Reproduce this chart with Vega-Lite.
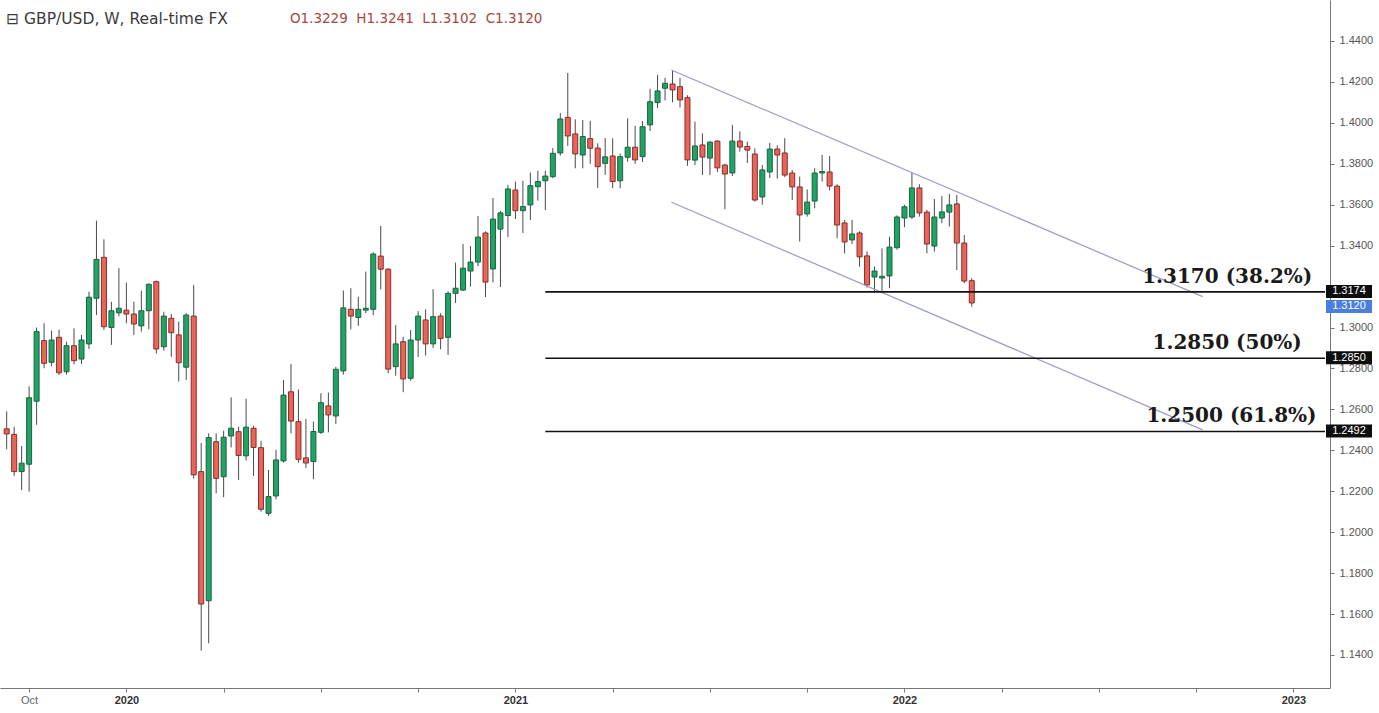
{
  "$schema": "https://vega.github.io/schema/vega-lite/v6.json",
  "width": 1330,
  "height": 688,
  "autosize": {"type": "none"},
  "padding": {"left": 0, "top": 0, "right": 49, "bottom": 25},
  "background": "#ffffff",
  "config": {"view": {"stroke": null}, "axis": {"grid": false}},
  "datasets": {
    "candles": [
      {"d":"2019-09-16","o":1.2505,"h":1.2590,"l":1.2405,"c":1.2480},
      {"d":"2019-09-23","o":1.2478,"h":1.2515,"l":1.2275,"c":1.2296},
      {"d":"2019-09-30","o":1.2296,"h":1.2421,"l":1.2205,"c":1.2337},
      {"d":"2019-10-07","o":1.2332,"h":1.2712,"l":1.2198,"c":1.2657},
      {"d":"2019-10-14","o":1.2640,"h":1.3000,"l":1.2525,"c":1.2980},
      {"d":"2019-10-21","o":1.2936,"h":1.3021,"l":1.2801,"c":1.2825},
      {"d":"2019-10-28","o":1.2830,"h":1.2985,"l":1.2810,"c":1.2939},
      {"d":"2019-11-04","o":1.2952,"h":1.2990,"l":1.2768,"c":1.2779},
      {"d":"2019-11-11","o":1.2784,"h":1.2931,"l":1.2770,"c":1.2911},
      {"d":"2019-11-18","o":1.2911,"h":1.2996,"l":1.2820,"c":1.2838},
      {"d":"2019-11-25","o":1.2846,"h":1.2964,"l":1.2822,"c":1.2939},
      {"d":"2019-12-02","o":1.2920,"h":1.3175,"l":1.2895,"c":1.3148},
      {"d":"2019-12-09","o":1.3143,"h":1.3522,"l":1.3061,"c":1.3333},
      {"d":"2019-12-16","o":1.3343,"h":1.3431,"l":1.2988,"c":1.3004},
      {"d":"2019-12-23","o":1.3000,"h":1.3126,"l":1.2915,"c":1.3082},
      {"d":"2019-12-30","o":1.3072,"h":1.3290,"l":1.3055,"c":1.3094},
      {"d":"2020-01-06","o":1.3085,"h":1.3219,"l":1.3021,"c":1.3066},
      {"d":"2020-01-13","o":1.3066,"h":1.3126,"l":1.2964,"c":1.3017},
      {"d":"2020-01-20","o":1.3008,"h":1.3180,"l":1.2980,"c":1.3082},
      {"d":"2020-01-27","o":1.3082,"h":1.3216,"l":1.2991,"c":1.3211},
      {"d":"2020-02-03","o":1.3224,"h":1.3230,"l":1.2873,"c":1.2895},
      {"d":"2020-02-10","o":1.2906,"h":1.3077,"l":1.2887,"c":1.3056},
      {"d":"2020-02-17","o":1.3045,"h":1.3066,"l":1.2857,"c":1.2975},
      {"d":"2020-02-24","o":1.2964,"h":1.3029,"l":1.2736,"c":1.2828},
      {"d":"2020-03-02","o":1.2806,"h":1.3070,"l":1.2744,"c":1.3061},
      {"d":"2020-03-09","o":1.3056,"h":1.3208,"l":1.2262,"c":1.2280},
      {"d":"2020-03-16","o":1.2296,"h":1.2436,"l":1.1421,"c":1.1649},
      {"d":"2020-03-23","o":1.1665,"h":1.2483,"l":1.1457,"c":1.2462},
      {"d":"2020-03-30","o":1.2442,"h":1.2483,"l":1.2190,"c":1.2263},
      {"d":"2020-04-06","o":1.2271,"h":1.2496,"l":1.2171,"c":1.2464},
      {"d":"2020-04-13","o":1.2470,"h":1.2659,"l":1.2414,"c":1.2508},
      {"d":"2020-04-20","o":1.2491,"h":1.2515,"l":1.2255,"c":1.2375},
      {"d":"2020-04-27","o":1.2373,"h":1.2652,"l":1.2350,"c":1.2513},
      {"d":"2020-05-04","o":1.2508,"h":1.2520,"l":1.2275,"c":1.2414},
      {"d":"2020-05-11","o":1.2413,"h":1.2447,"l":1.2100,"c":1.2112},
      {"d":"2020-05-18","o":1.2092,"h":1.2304,"l":1.2080,"c":1.2174},
      {"d":"2020-05-25","o":1.2177,"h":1.2403,"l":1.2160,"c":1.2353},
      {"d":"2020-06-01","o":1.2348,"h":1.2744,"l":1.2340,"c":1.2670},
      {"d":"2020-06-08","o":1.2686,"h":1.2822,"l":1.2483,"c":1.2543},
      {"d":"2020-06-15","o":1.2540,"h":1.2697,"l":1.2340,"c":1.2356},
      {"d":"2020-06-22","o":1.2363,"h":1.2553,"l":1.2314,"c":1.2338},
      {"d":"2020-06-29","o":1.2345,"h":1.2540,"l":1.2259,"c":1.2492},
      {"d":"2020-07-06","o":1.2488,"h":1.2679,"l":1.2480,"c":1.2633},
      {"d":"2020-07-13","o":1.2617,"h":1.2682,"l":1.2488,"c":1.2573},
      {"d":"2020-07-20","o":1.2568,"h":1.2808,"l":1.2529,"c":1.2796},
      {"d":"2020-07-27","o":1.2788,"h":1.3181,"l":1.2770,"c":1.3096},
      {"d":"2020-08-03","o":1.3089,"h":1.3192,"l":1.2991,"c":1.3056},
      {"d":"2020-08-10","o":1.3049,"h":1.3151,"l":1.3008,"c":1.3089},
      {"d":"2020-08-17","o":1.3085,"h":1.3273,"l":1.3070,"c":1.3094},
      {"d":"2020-08-24","o":1.3089,"h":1.3368,"l":1.3060,"c":1.3359},
      {"d":"2020-08-31","o":1.3349,"h":1.3496,"l":1.3187,"c":1.3285},
      {"d":"2020-09-07","o":1.3285,"h":1.3290,"l":1.2776,"c":1.2797},
      {"d":"2020-09-14","o":1.2809,"h":1.3012,"l":1.2765,"c":1.2920},
      {"d":"2020-09-21","o":1.2931,"h":1.2955,"l":1.2684,"c":1.2749},
      {"d":"2020-09-28","o":1.2752,"h":1.2988,"l":1.2740,"c":1.2939},
      {"d":"2020-10-05","o":1.2939,"h":1.3080,"l":1.2856,"c":1.3056},
      {"d":"2020-10-12","o":1.3037,"h":1.3089,"l":1.2863,"c":1.2920},
      {"d":"2020-10-19","o":1.2920,"h":1.3187,"l":1.2900,"c":1.3053},
      {"d":"2020-10-26","o":1.3056,"h":1.3070,"l":1.2894,"c":1.2947},
      {"d":"2020-11-02","o":1.2952,"h":1.3177,"l":1.2866,"c":1.3167},
      {"d":"2020-11-09","o":1.3167,"h":1.3317,"l":1.3120,"c":1.3192},
      {"d":"2020-11-16","o":1.3183,"h":1.3408,"l":1.3178,"c":1.3290},
      {"d":"2020-11-23","o":1.3276,"h":1.3398,"l":1.3200,"c":1.3320},
      {"d":"2020-11-30","o":1.3320,"h":1.3545,"l":1.3300,"c":1.3442},
      {"d":"2020-12-07","o":1.3462,"h":1.3470,"l":1.3149,"c":1.3222},
      {"d":"2020-12-14","o":1.3286,"h":1.3633,"l":1.3220,"c":1.3530},
      {"d":"2020-12-21","o":1.3481,"h":1.3570,"l":1.3198,"c":1.3560},
      {"d":"2020-12-28","o":1.3547,"h":1.3697,"l":1.3442,"c":1.3677},
      {"d":"2021-01-04","o":1.3672,"h":1.3713,"l":1.3530,"c":1.3571},
      {"d":"2021-01-11","o":1.3571,"h":1.3717,"l":1.3462,"c":1.3591},
      {"d":"2021-01-18","o":1.3599,"h":1.3757,"l":1.3525,"c":1.3693},
      {"d":"2021-01-25","o":1.3688,"h":1.3766,"l":1.3620,"c":1.3713},
      {"d":"2021-02-01","o":1.3717,"h":1.3766,"l":1.3574,"c":1.3740},
      {"d":"2021-02-08","o":1.3737,"h":1.3877,"l":1.3730,"c":1.3851},
      {"d":"2021-02-15","o":1.3853,"h":1.4048,"l":1.3840,"c":1.4019},
      {"d":"2021-02-22","o":1.4027,"h":1.4244,"l":1.3887,"c":1.3936},
      {"d":"2021-03-01","o":1.3946,"h":1.4017,"l":1.3778,"c":1.3848},
      {"d":"2021-03-08","o":1.3843,"h":1.4014,"l":1.3778,"c":1.3933},
      {"d":"2021-03-15","o":1.3923,"h":1.4010,"l":1.3800,"c":1.3876},
      {"d":"2021-03-22","o":1.3877,"h":1.3900,"l":1.3682,"c":1.3786},
      {"d":"2021-03-29","o":1.3802,"h":1.3926,"l":1.3746,"c":1.3834},
      {"d":"2021-04-05","o":1.3838,"h":1.3925,"l":1.3681,"c":1.3713},
      {"d":"2021-04-12","o":1.3717,"h":1.3850,"l":1.3680,"c":1.3835},
      {"d":"2021-04-19","o":1.3832,"h":1.4022,"l":1.3810,"c":1.3881},
      {"d":"2021-04-26","o":1.3881,"h":1.3985,"l":1.3800,"c":1.3819},
      {"d":"2021-05-03","o":1.3835,"h":1.4009,"l":1.3809,"c":1.3981},
      {"d":"2021-05-10","o":1.3990,"h":1.4166,"l":1.3960,"c":1.4103},
      {"d":"2021-05-17","o":1.4099,"h":1.4234,"l":1.4072,"c":1.4156},
      {"d":"2021-05-24","o":1.4169,"h":1.4220,"l":1.4110,"c":1.4193},
      {"d":"2021-05-31","o":1.4190,"h":1.4258,"l":1.4100,"c":1.4161},
      {"d":"2021-06-07","o":1.4177,"h":1.4220,"l":1.4075,"c":1.4112},
      {"d":"2021-06-14","o":1.4123,"h":1.4135,"l":1.3790,"c":1.3819},
      {"d":"2021-06-21","o":1.3818,"h":1.4006,"l":1.3794,"c":1.3887},
      {"d":"2021-06-28","o":1.3892,"h":1.3949,"l":1.3745,"c":1.3833},
      {"d":"2021-07-05","o":1.3828,"h":1.3910,"l":1.3745,"c":1.3906},
      {"d":"2021-07-12","o":1.3911,"h":1.3915,"l":1.3760,"c":1.3780},
      {"d":"2021-07-19","o":1.3794,"h":1.3800,"l":1.3578,"c":1.3750},
      {"d":"2021-07-26","o":1.3755,"h":1.3990,"l":1.3740,"c":1.3911},
      {"d":"2021-08-02","o":1.3911,"h":1.3958,"l":1.3860,"c":1.3882},
      {"d":"2021-08-09","o":1.3885,"h":1.3908,"l":1.3804,"c":1.3867},
      {"d":"2021-08-16","o":1.3848,"h":1.3875,"l":1.3615,"c":1.3623},
      {"d":"2021-08-23","o":1.3638,"h":1.3794,"l":1.3600,"c":1.3770},
      {"d":"2021-08-30","o":1.3760,"h":1.3902,"l":1.3730,"c":1.3872},
      {"d":"2021-09-06","o":1.3872,"h":1.3890,"l":1.3727,"c":1.3843},
      {"d":"2021-09-13","o":1.3853,"h":1.3925,"l":1.3735,"c":1.3745},
      {"d":"2021-09-20","o":1.3755,"h":1.3770,"l":1.3623,"c":1.3687},
      {"d":"2021-09-27","o":1.3687,"h":1.3737,"l":1.3420,"c":1.3550},
      {"d":"2021-10-04","o":1.3555,"h":1.3675,"l":1.3542,"c":1.3613},
      {"d":"2021-10-11","o":1.3618,"h":1.3778,"l":1.3583,"c":1.3755},
      {"d":"2021-10-18","o":1.3755,"h":1.3843,"l":1.3713,"c":1.3762},
      {"d":"2021-10-25","o":1.3760,"h":1.3838,"l":1.3670,"c":1.3691},
      {"d":"2021-11-01","o":1.3691,"h":1.3700,"l":1.3436,"c":1.3501},
      {"d":"2021-11-08","o":1.3511,"h":1.3526,"l":1.3363,"c":1.3418},
      {"d":"2021-11-15","o":1.3428,"h":1.3526,"l":1.3408,"c":1.3457},
      {"d":"2021-11-22","o":1.3462,"h":1.3470,"l":1.3297,"c":1.3345},
      {"d":"2021-11-29","o":1.3350,"h":1.3372,"l":1.3195,"c":1.3208},
      {"d":"2021-12-06","o":1.3247,"h":1.3298,"l":1.3170,"c":1.3276},
      {"d":"2021-12-13","o":1.3242,"h":1.3387,"l":1.3172,"c":1.3250},
      {"d":"2021-12-20","o":1.3252,"h":1.3444,"l":1.3192,"c":1.3393},
      {"d":"2021-12-27","o":1.3390,"h":1.3548,"l":1.3380,"c":1.3540},
      {"d":"2022-01-03","o":1.3535,"h":1.3600,"l":1.3490,"c":1.3590},
      {"d":"2022-01-10","o":1.3540,"h":1.3755,"l":1.3530,"c":1.3682},
      {"d":"2022-01-17","o":1.3682,"h":1.3700,"l":1.3542,"c":1.3560},
      {"d":"2022-01-24","o":1.3564,"h":1.3575,"l":1.3363,"c":1.3408},
      {"d":"2022-01-31","o":1.3398,"h":1.3628,"l":1.3371,"c":1.3540},
      {"d":"2022-02-07","o":1.3535,"h":1.3643,"l":1.3510,"c":1.3565},
      {"d":"2022-02-14","o":1.3564,"h":1.3652,"l":1.3493,"c":1.3599},
      {"d":"2022-02-21","o":1.3604,"h":1.3648,"l":1.3281,"c":1.3413},
      {"d":"2022-02-28","o":1.3413,"h":1.3452,"l":1.3216,"c":1.3227},
      {"d":"2022-03-07","o":1.3229,"h":1.3241,"l":1.3102,"c":1.3120}
    ],
    "levels": [
      {"start":"2021-02-01","price":1.3174},
      {"start":"2021-02-01","price":1.2850},
      {"start":"2021-02-01","price":1.2492}
    ],
    "channel": [
      {"line":"upper","d":"2021-05-30","p":1.4258},
      {"line":"upper","d":"2022-10-09","p":1.3151},
      {"line":"lower","d":"2021-05-30","p":1.3612},
      {"line":"lower","d":"2022-10-09","p":1.2500}
    ],
    "notes": [
      {"label":"1.3170 (38.2%)","d":"2022-11-01","price":1.3174},
      {"label":"1.2850 (50%)","d":"2022-11-01","price":1.2850},
      {"label":"1.2500 (61.8%)","d":"2022-11-05","price":1.2492}
    ],
    "tags": [
      {"label":"1.3120","price":1.3120,"kind":"last"},
      {"label":"1.3174","price":1.3174,"kind":"level"},
      {"label":"1.2850","price":1.2850,"kind":"level"},
      {"label":"1.2492","price":1.2492,"kind":"level"}
    ],
    "header": [
      {"title":"⊟ GBP/USD, W, Real-time FX","ohlc":"O1.3229\u00a0 H1.3241\u00a0 L1.3102\u00a0 C1.3120"}
    ]
  },
  "layer": [
    {
      "data": {"name": "candles"},
      "mark": {"type": "rule", "color": "#4a4a4a", "strokeWidth": 1},
      "encoding": {
        "x": {
          "field": "d", "type": "temporal", "title": null,
          "scale": {"type": "utc", "nice": false, "domain": [
            {"year": 2019, "month": 9, "date": 14, "hours": 10, "minutes": 20, "utc": true},
            {"year": 2023, "month": 1, "date": 31, "hours": 12, "utc": true}
          ]},
          "axis": {
            "title": null, "grid": false,
            "values": [
              {"year":2019,"month":10,"date":7,"utc":true},
              {"year":2020,"month":1,"date":6,"utc":true},
              {"year":2020,"month":4,"date":6,"utc":true},
              {"year":2020,"month":7,"date":6,"utc":true},
              {"year":2020,"month":10,"date":5,"utc":true},
              {"year":2021,"month":1,"date":4,"utc":true},
              {"year":2021,"month":4,"date":5,"utc":true},
              {"year":2021,"month":7,"date":5,"utc":true},
              {"year":2021,"month":10,"date":4,"utc":true},
              {"year":2022,"month":1,"date":3,"utc":true},
              {"year":2022,"month":4,"date":4,"utc":true},
              {"year":2022,"month":7,"date":4,"utc":true},
              {"year":2022,"month":10,"date":3,"utc":true},
              {"year":2023,"month":1,"date":2,"utc":true}
            ],
            "labelExpr": "utcmonth(datum.value) == 0 ? utcFormat(datum.value, '%Y') : (utcyear(datum.value) == 2019 ? 'Oct' : '')",
            "labelFont": "Liberation Sans", "labelFontSize": 11,
            "labelColor": {"condition": {"test": "utcmonth(datum.value) == 0", "value": "#333333"}, "value": "#666666"},
            "labelFontWeight": {"condition": {"test": "utcmonth(datum.value) == 0", "value": "bold"}, "value": "normal"},
            "labelPadding": 2, "labelFlush": false, "labelOverlap": false,
            "tickSize": 4, "tickColor": "#777777", "domainColor": "#777777"
          }
        },
        "y": {
          "field": "l", "type": "quantitative", "title": null,
          "scale": {"domain": [1.12387, 1.46003], "nice": false, "zero": false},
          "axis": {
            "orient": "right", "title": null, "grid": false,
            "values": [1.14,1.16,1.18,1.2,1.22,1.24,1.26,1.28,1.3,1.34,1.36,1.38,1.4,1.42,1.44],
            "format": ".4f",
            "labelFont": "Liberation Sans", "labelFontSize": 11, "labelColor": "#555555",
            "labelPadding": 5, "labelFlush": false, "labelOverlap": false,
            "tickSize": 4, "tickColor": "#777777", "domainColor": "#777777"
          }
        },
        "y2": {"field": "h"}
      }
    },
    {
      "data": {"name": "candles"},
      "mark": {"type": "bar", "size": 5, "strokeWidth": 1},
      "encoding": {
        "x": {"field": "d", "type": "temporal", "title": null},
        "y": {"field": "o", "type": "quantitative", "title": null},
        "y2": {"field": "c"},
        "fill": {"condition": {"test": "datum.c >= datum.o", "value": "#22a267"}, "value": "#e8655b"},
        "stroke": {"condition": {"test": "datum.c >= datum.o", "value": "#17653f"}, "value": "#8a2d27"}
      }
    },
    {
      "data": {"name": "channel"},
      "mark": {"type": "line", "color": "#9a9bc7", "strokeWidth": 1.2},
      "encoding": {
        "x": {"field": "d", "type": "temporal", "title": null},
        "y": {"field": "p", "type": "quantitative", "title": null},
        "detail": {"field": "line", "type": "nominal"}
      }
    },
    {
      "data": {"name": "levels"},
      "mark": {"type": "rule", "color": "#111111", "strokeWidth": 1.6},
      "encoding": {
        "x": {"field": "start", "type": "temporal", "title": null},
        "x2": {"datum": {"year": 2023, "month": 1, "date": 31, "hours": 12, "utc": true}},
        "y": {"field": "price", "type": "quantitative", "title": null}
      }
    },
    {
      "data": {"name": "notes"},
      "mark": {"type": "text", "font": "DejaVu Serif", "fontWeight": "bold", "fontSize": 20, "color": "#1a1a1a", "align": "center", "baseline": "alphabetic", "dy": -9},
      "encoding": {
        "x": {"field": "d", "type": "temporal", "title": null},
        "y": {"field": "price", "type": "quantitative", "title": null},
        "text": {"field": "label"}
      }
    },
    {
      "data": {"name": "tags"},
      "transform": [{"filter": "datum.kind == 'last'"}],
      "mark": {"type": "rect", "xOffset": 1, "x2Offset": 47, "yOffset": -3, "y2Offset": 10, "fill": "#4a7fe0"},
      "encoding": {
        "x": {"datum": {"year": 2023, "month": 1, "date": 31, "hours": 12, "utc": true}, "type": "temporal"},
        "x2": {"datum": {"year": 2023, "month": 1, "date": 31, "hours": 12, "utc": true}},
        "y": {"field": "price", "type": "quantitative", "title": null},
        "y2": {"field": "price"}
      }
    },
    {
      "data": {"name": "tags"},
      "transform": [{"filter": "datum.kind == 'last'"}],
      "mark": {"type": "text", "font": "Liberation Sans", "fontSize": 11, "color": "#ffffff", "align": "center", "baseline": "middle", "dx": 24, "dy": 3.5},
      "encoding": {
        "x": {"datum": {"year": 2023, "month": 1, "date": 31, "hours": 12, "utc": true}, "type": "temporal"},
        "y": {"field": "price", "type": "quantitative", "title": null},
        "text": {"field": "label"}
      }
    },
    {
      "data": {"name": "tags"},
      "transform": [{"filter": "datum.kind == 'level'"}],
      "mark": {"type": "rect", "xOffset": 1, "x2Offset": 47, "yOffset": -7, "y2Offset": 6, "fill": "#0d0d0d"},
      "encoding": {
        "x": {"datum": {"year": 2023, "month": 1, "date": 31, "hours": 12, "utc": true}, "type": "temporal"},
        "x2": {"datum": {"year": 2023, "month": 1, "date": 31, "hours": 12, "utc": true}},
        "y": {"field": "price", "type": "quantitative", "title": null},
        "y2": {"field": "price"}
      }
    },
    {
      "data": {"name": "tags"},
      "transform": [{"filter": "datum.kind == 'level'"}],
      "mark": {"type": "text", "font": "Liberation Sans", "fontSize": 11, "color": "#ffffff", "align": "center", "baseline": "middle", "dx": 24, "dy": -0.5},
      "encoding": {
        "x": {"datum": {"year": 2023, "month": 1, "date": 31, "hours": 12, "utc": true}, "type": "temporal"},
        "y": {"field": "price", "type": "quantitative", "title": null},
        "text": {"field": "label"}
      }
    },
    {
      "data": {"name": "header"},
      "mark": {"type": "text", "font": "DejaVu Sans", "fontSize": 15.5, "color": "#3a3a3a", "align": "left", "baseline": "middle"},
      "encoding": {
        "x": {"datum": {"year": 2019, "month": 9, "date": 15, "hours": 12, "utc": true}, "type": "temporal"},
        "y": {"datum": 1.4507, "type": "quantitative"},
        "text": {"field": "title"}
      }
    },
    {
      "data": {"name": "header"},
      "mark": {"type": "text", "font": "DejaVu Sans", "fontSize": 13.5, "color": "#a5483d", "align": "left", "baseline": "middle"},
      "encoding": {
        "x": {"datum": {"year": 2020, "month": 6, "date": 7, "utc": true}, "type": "temporal"},
        "y": {"datum": 1.4507, "type": "quantitative"},
        "text": {"field": "ohlc"}
      }
    }
  ]
}
